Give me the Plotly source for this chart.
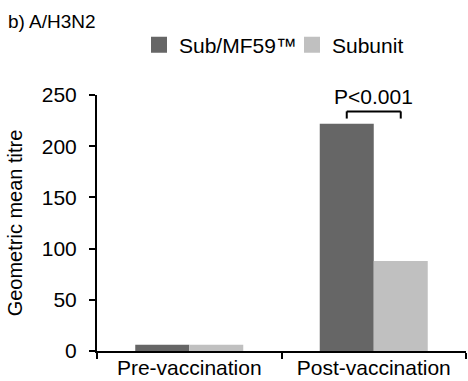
import plotly.graph_objects as go

categories = ["Pre-vaccination", "Post-vaccination"]
series_names = ["Sub/MF59™", "Subunit"]
sub_mf59 = [6, 222]
subunit = [6, 88]
colors = ["#666666", "#c0c0c0"]
y_ticks = [0, 50, 100, 150, 200, 250]
p_label = "P<0.001"
panel_title = "b) A/H3N2"

FONT = "Liberation Sans, Arial, sans-serif"

fig = go.Figure()
for name, vals, col in zip(series_names, [sub_mf59, subunit], colors):
    fig.add_trace(go.Bar(x=categories, y=vals, name=name, marker=dict(color=col, line=dict(width=0)),
                         showlegend=False))
    # legend proxies with larger square markers
    fig.add_trace(go.Scatter(x=[None], y=[None], mode="markers", name=name,
                             marker=dict(symbol="square", size=16, color=col)))

W, H = 468, 381
L, R, T, B = 97, 2, 95, 30
plot_w = W - L - R
cat_w = plot_w / len(categories)
bar_w_px = 54
bargap = 1 - 2 * bar_w_px / cat_w
half = bar_w_px / cat_w / 2  # bar center offset in category units

# significance bracket over post-vaccination bars
post_idx = 1
top = max(sub_mf59[post_idx], subunit[post_idx])
y_top = top + 12
y_leg = top + 5
x0 = post_idx - half
x1 = post_idx + half
line = dict(color="black", width=2)
fig.add_shape(type="line", x0=x0, x1=x1, y0=y_top, y1=y_top, xref="x", yref="y", line=line)
fig.add_shape(type="line", x0=x0, x1=x0, y0=y_top, y1=y_leg, xref="x", yref="y", line=line)
fig.add_shape(type="line", x0=x1, x1=x1, y0=y_top, y1=y_leg, xref="x", yref="y", line=line)
fig.add_annotation(x=post_idx, y=y_top, xref="x", yref="y", text=p_label, showarrow=False,
                   yanchor="bottom", yshift=1, font=dict(size=21, color="black", family=FONT))

fig.update_layout(
    width=W, height=H,
    margin=dict(l=L, r=R, t=T, b=B, autoexpand=False),
    paper_bgcolor="white", plot_bgcolor="white",
    font=dict(family=FONT, color="black", size=21),
    barmode="group", bargap=bargap, bargroupgap=0,
    title=dict(text=panel_title, x=8 / W, xanchor="left", xref="container",
               y=1 - 21 / H, yanchor="middle", yref="container",
               font=dict(size=19, family=FONT, color="black")),
    legend=dict(orientation="h", x=139 / W, xanchor="left", xref="container",
                y=1 - 45 / H, yanchor="middle", yref="container",
                font=dict(size=21, family=FONT, color="black"),
                itemwidth=30, entrywidth=108, entrywidthmode="pixels",
                tracegroupgap=0, bgcolor="rgba(0,0,0,0)"),
    showlegend=True,
)
fig.update_xaxes(type="category", showline=True, linecolor="black", linewidth=2,
                 ticks="outside", tickson="boundaries", ticklen=6, tickwidth=2, tickcolor="black",
                 showgrid=False, zeroline=False, tickfont=dict(size=21, family=FONT),
                 ticklabelstandoff=-3,
                 tickangle=0, automargin=False, range=[-0.5, 1.5], fixedrange=True)
fig.update_yaxes(range=[0, 250], tickvals=y_ticks, showline=True, linecolor="black", linewidth=2,
                 ticks="outside", ticklen=6, tickwidth=2, tickcolor="black", ticklabelstandoff=8,
                 showgrid=False, zeroline=False, tickfont=dict(size=21, family=FONT), automargin=False,
                 title=dict(text="Geometric mean titre", font=dict(size=20, family=FONT), standoff=14))

fig.write_html("out.html", config={"displayModeBar": False},
               post_script="document.body.style.margin='0';document.body.style.overflow='hidden';")
